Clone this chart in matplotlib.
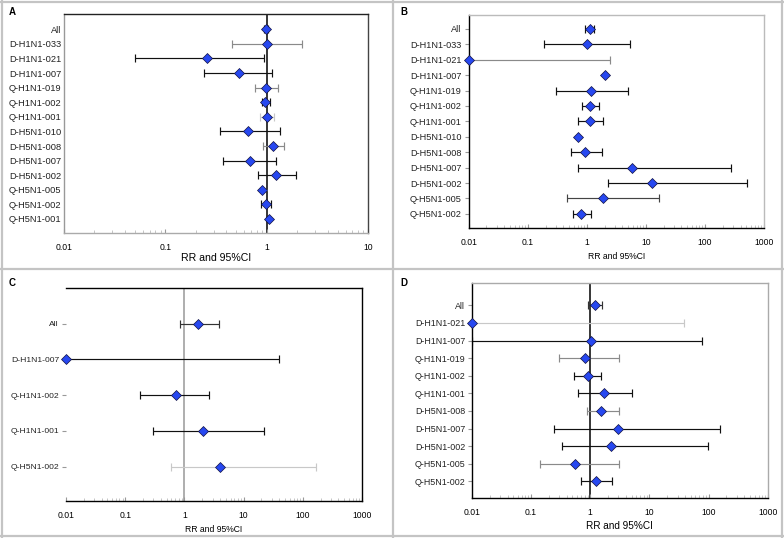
import matplotlib

matplotlib.use("Agg")
import matplotlib.pyplot as plt
from matplotlib.lines import Line2D
from matplotlib.ticker import LogLocator, NullFormatter, FixedLocator, FixedFormatter

plt.rcParams["font.family"] = ["Liberation Sans", "DejaVu Sans"]

# ---- data -------------------------------------------------------------
a_labels = ["All", "D-H1N1-033", "D-H1N1-021", "D-H1N1-007", "Q-H1N1-019", "Q-H1N1-002",
            "Q-H1N1-001", "D-H5N1-010", "D-H5N1-008", "D-H5N1-007", "D-H5N1-002",
            "Q-H5N1-005", "Q-H5N1-002", "Q-H5N1-001"]
a_rr = [0.98, 1.01, 0.26, 0.53, 0.98, 0.97, 1.01, 0.66, 1.16, 0.68, 1.24, 0.89, 0.98, 1.05]
a_lo = [0.95, 0.46, 0.05, 0.24, 0.76, 0.89, 0.86, 0.35, 0.91, 0.37, 0.83, 0.63, 0.87, 0.63]
a_hi = [1.03, 2.22, 0.95, 1.12, 1.28, 1.07, 1.19, 1.34, 1.49, 1.25, 1.93, 1.29, 1.11, 1.87]

b_labels = ["All", "D-H1N1-033", "D-H1N1-021", "D-H1N1-007", "Q-H1N1-019", "Q-H1N1-002",
            "Q-H1N1-001", "D-H5N1-010", "D-H5N1-008", "D-H5N1-007", "D-H5N1-002",
            "Q-H5N1-005", "Q-H5N1-002"]
b_rr = [1.13, 1.02, 0.01, 2.02, 1.19, 1.14, 1.14, 0.71, 0.94, 5.9, 12.9, 1.89, 0.81]
b_lo = [0.94, 0.19, 0.01, 0.11, 0.30, 0.84, 0.71, 0.22, 0.53, 0.72, 2.27, 0.47, 0.59]
b_hi = [1.32, 5.35, 2.49, 124, 5.0, 1.58, 1.89, 2.59, 1.80, 277, 516, 16.5, 1.19]

c_labels = ["All", "D-H1N1-007", "Q-H1N1-002", "Q-H1N1-001", "Q-H5N1-002"]
c_rr = [1.69, 0.01, 0.71, 2.02, 3.92]
c_lo = [0.84, 0.01, 0.18, 0.29, 0.59]
c_hi = [3.82, 39.8, 2.62, 22.2, 165]

d_labels = ["All", "D-H1N1-021", "D-H1N1-007", "Q-H1N1-019", "Q-H1N1-002", "Q-H1N1-001",
            "D-H5N1-008", "D-H5N1-007", "D-H5N1-002", "Q-H5N1-005", "Q-H5N1-002"]
d_rr = [1.22, 0.01, 1.04, 0.81, 0.92, 1.73, 1.52, 2.98, 2.27, 0.55, 1.23]
d_lo = [0.93, 0.01, 0.01, 0.30, 0.54, 0.62, 0.87, 0.24, 0.33, 0.14, 0.69]
d_hi = [1.60, 39, 78.5, 3.1, 1.54, 5.14, 3.02, 154, 99, 3.10, 2.36]

# ---- styles (bar colour, cap colour) per row --------------------------
K, G, L, N = "#111111", "#8a8a8a", "#c8c8c8", "#ffffff"
a_bar = [K, G, K, K, G, K, L, K, G, K, K, N, K, N]
a_cap = [K, G, K, K, G, K, G, K, G, K, K, G, K, G]
b_bar = [K, K, G, N, K, K, K, N, K, K, K, "#444444", K]
b_cap = [K, K, G, G, K, K, K, G, K, K, K, "#444444", K]
c_bar = ["#333333", K, K, K, L]
c_cap = ["#333333", K, K, K, G]
d_bar = ["#333333", L, K, G, K, K, G, K, K, G, K]
d_cap = ["#333333", G, K, G, K, K, G, K, K, G, K]

MARK = "#2748f0"


def forest(ax, labels, rr, lo, hi, bars, caps, xmax, ylim, ref_color, spines,
           yticks=True, xlabel_size=6.5, ylabel_size=6.4, xlabel_pad=3):
    ys = list(range(len(labels)))
    for y, r, l, h, bc, cc in zip(ys, rr, lo, hi, bars, caps):
        _, caplines, barcols = ax.errorbar([r], [y], xerr=[[r - l], [h - r]], fmt="none",
                                           ecolor=bc, elinewidth=0.85, capsize=2.6,
                                           capthick=0.85, zorder=2)
        for c in caplines:
            c.set_color(cc)
    if ref_color:
        ax.axvline(1, color=ref_color, lw=1.1, zorder=1)
    ax.plot(rr, ys, linestyle="none", marker="D", markersize=4.8, markerfacecolor=MARK,
            markeredgecolor="#101040", markeredgewidth=0.5, zorder=3, clip_on=False)
    ax.set_xscale("log")
    ax.set_xlim(0.01, xmax)
    ax.set_ylim(*ylim)
    ax.set_yticks(ys)
    ax.set_yticklabels(labels, fontsize=ylabel_size, color="#222222")
    majors = [10.0 ** k for k in range(-2, 4) if 10.0 ** k <= xmax]
    names = {0.01: "0.01", 0.1: "0.1", 1.0: "1", 10.0: "10", 100.0: "100", 1000.0: "1000"}
    ax.xaxis.set_major_locator(FixedLocator(majors))
    ax.xaxis.set_major_formatter(FixedFormatter([names[round(m, 2)] for m in majors]))
    ax.xaxis.set_minor_locator(LogLocator(base=10, subs=range(2, 10)))
    ax.xaxis.set_minor_formatter(NullFormatter())
    ax.tick_params(axis="x", which="major", direction="in", length=3, color="#999999",
                   labelsize=6.2, pad=7)
    ax.tick_params(axis="x", which="minor", direction="in", length=2, color="#bbbbbb")
    if yticks:
        ax.tick_params(axis="y", length=3, color="#999999", pad=2)
    else:
        ax.tick_params(axis="y", length=0, pad=2)
    for side, col in spines.items():
        if col is None:
            ax.spines[side].set_visible(False)
        else:
            ax.spines[side].set_color(col)
            ax.spines[side].set_linewidth(1.0)
    ax.set_xlabel("RR and 95%CI", fontsize=xlabel_size, labelpad=xlabel_pad)


fig = plt.figure(figsize=(7.84, 5.38), dpi=100)
fig.patch.set_facecolor("white")

ax_a = fig.add_axes([0.0816, 0.5669, 0.3878, 0.4071])
forest(ax_a, a_labels, a_rr, a_lo, a_hi, a_bar, a_cap, 10, (13.96, -1.05), "#000000",
       {"left": "#999999", "bottom": "#aaaaaa", "top": "#222222", "right": "#444444"},
       yticks=False, xlabel_size=7.6, ylabel_size=6.7, xlabel_pad=1)

ax_b = fig.add_axes([0.5978, 0.5762, 0.3767, 0.3959])
forest(ax_b, b_labels, b_rr, b_lo, b_hi, b_bar, b_cap, 1000, (12.92, -0.9), None,
       {"left": "#000000", "bottom": "#000000", "top": "#bbbbbb", "right": "#bbbbbb"},
       xlabel_size=6.2, ylabel_size=6.6, xlabel_pad=4)

ax_c = fig.add_axes([0.0842, 0.0688, 0.3776, 0.3959])
forest(ax_c, c_labels, c_rr, c_lo, c_hi, c_bar, c_cap, 1000, (4.96, -1.0), "#999999",
       {"left": None, "bottom": "#000000", "top": "#000000", "right": "#000000"},
       xlabel_size=6.2, ylabel_size=6.1, xlabel_pad=4)

ax_d = fig.add_axes([0.602, 0.0743, 0.3772, 0.3996])
forest(ax_d, d_labels, d_rr, d_lo, d_hi, d_bar, d_cap, 1000, (10.95, -1.27), "#000000",
       {"left": "#000000", "bottom": "#000000", "top": "#aaaaaa", "right": "#aaaaaa"},
       xlabel_size=7.2, ylabel_size=6.4, xlabel_pad=3)

# panel frames
frame = dict(color="#c4c4c4", lw=1.6, transform=fig.transFigure)
fig.add_artist(Line2D([0.501, 0.501], [0, 1], **frame))
fig.add_artist(Line2D([0, 1], [0.5, 0.5], **frame))
fig.add_artist(Line2D([0.002, 0.002], [0, 1], **frame))
fig.add_artist(Line2D([0.998, 0.998], [0, 1], **frame))
fig.add_artist(Line2D([0, 1], [0.997, 0.997], **frame))
fig.add_artist(Line2D([0, 1], [0.003, 0.003], **frame))

for letter, x, y in [("A", 12, 12), ("B", 404, 12), ("C", 12, 283), ("D", 404, 283)]:
    fig.text(x / 784, 1 - y / 538, letter, fontsize=7, fontweight="bold",
             ha="center", va="center")

fig.savefig("out.png", dpi=100)
